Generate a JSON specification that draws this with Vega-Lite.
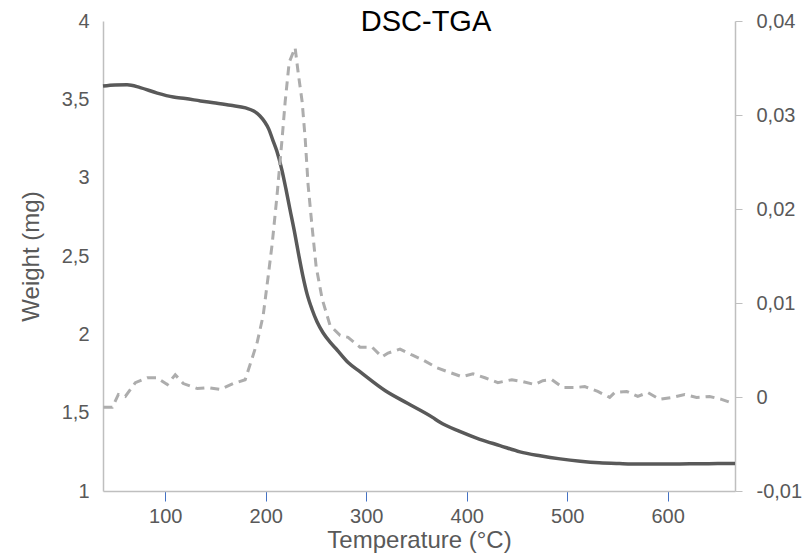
{
  "$schema": "https://vega.github.io/schema/vega-lite/v6.json",
  "width": 632,
  "height": 470,
  "autosize": "none",
  "padding": {"left": 103, "top": 21, "right": 77, "bottom": 68},
  "background": "white",
  "config": {
    "font": "Liberation Sans",
    "view": {"stroke": null}
  },
  "title": {
    "text": "DSC-TGA",
    "fontSize": 29,
    "fontWeight": "normal",
    "color": "#000000",
    "anchor": "middle",
    "frame": "group",
    "baseline": "alphabetic",
    "offset": 0,
    "dy": 49,
    "dx": 7
  },
  "datasets": {
    "tga": [
      {"T": 38, "W": 3.585}, {"T": 50, "W": 3.592}, {"T": 62, "W": 3.593}, {"T": 75, "W": 3.575},
      {"T": 92, "W": 3.54}, {"T": 108, "W": 3.515}, {"T": 120, "W": 3.505}, {"T": 135, "W": 3.49},
      {"T": 148, "W": 3.478}, {"T": 165, "W": 3.462}, {"T": 180, "W": 3.445}, {"T": 188, "W": 3.425},
      {"T": 194, "W": 3.395}, {"T": 199, "W": 3.355}, {"T": 203, "W": 3.31}, {"T": 207, "W": 3.24},
      {"T": 211, "W": 3.17}, {"T": 216, "W": 3.05}, {"T": 220, "W": 2.93}, {"T": 224, "W": 2.8},
      {"T": 229, "W": 2.64}, {"T": 233, "W": 2.5}, {"T": 237, "W": 2.37}, {"T": 241, "W": 2.26},
      {"T": 246, "W": 2.16}, {"T": 251, "W": 2.08}, {"T": 257, "W": 2.01}, {"T": 264, "W": 1.95},
      {"T": 271, "W": 1.9}, {"T": 282, "W": 1.82}, {"T": 294, "W": 1.76}, {"T": 319, "W": 1.64},
      {"T": 341, "W": 1.56}, {"T": 366, "W": 1.47}, {"T": 373, "W": 1.44}, {"T": 393, "W": 1.38},
      {"T": 413, "W": 1.33}, {"T": 433, "W": 1.29}, {"T": 453, "W": 1.25}, {"T": 473, "W": 1.225},
      {"T": 493, "W": 1.205}, {"T": 513, "W": 1.19}, {"T": 532, "W": 1.18}, {"T": 552, "W": 1.175},
      {"T": 572, "W": 1.172}, {"T": 592, "W": 1.172}, {"T": 612, "W": 1.173}, {"T": 632, "W": 1.174},
      {"T": 650, "W": 1.175}, {"T": 667, "W": 1.176}
    ],
    "dsc": [
      {"T": 38.4, "D": -0.00109}, {"T": 47.3, "D": -0.00109}, {"T": 53.3, "D": 0.00027}, {"T": 60.2, "D": 0.00006},
      {"T": 70.2, "D": 0.00153}, {"T": 82.1, "D": 0.00205}, {"T": 92.0, "D": 0.00205}, {"T": 95.0, "D": 0.0018},
      {"T": 102.0, "D": 0.00132}, {"T": 109.9, "D": 0.00237}, {"T": 117.9, "D": 0.00143}, {"T": 131.8, "D": 0.0009},
      {"T": 142.7, "D": 0.001}, {"T": 154.7, "D": 0.0008}, {"T": 167.6, "D": 0.00143}, {"T": 179.5, "D": 0.00184},
      {"T": 186.5, "D": 0.00415}, {"T": 191.5, "D": 0.00583}, {"T": 197.4, "D": 0.00866}, {"T": 202.4, "D": 0.01285},
      {"T": 206.4, "D": 0.01631}, {"T": 211.3, "D": 0.02155}, {"T": 216.3, "D": 0.02753}, {"T": 219.3, "D": 0.03141},
      {"T": 223.3, "D": 0.0356}, {"T": 229.2, "D": 0.03717}, {"T": 232.2, "D": 0.03455}, {"T": 236.2, "D": 0.03141},
      {"T": 239.2, "D": 0.02753}, {"T": 242.1, "D": 0.0226}, {"T": 246.1, "D": 0.01809}, {"T": 250.1, "D": 0.0139},
      {"T": 256.1, "D": 0.01044}, {"T": 264.0, "D": 0.00761}, {"T": 274.0, "D": 0.00656}, {"T": 281.9, "D": 0.00635},
      {"T": 293.8, "D": 0.0053}, {"T": 305.8, "D": 0.0053}, {"T": 315.7, "D": 0.00426}, {"T": 321.7, "D": 0.00468},
      {"T": 333.6, "D": 0.0051}, {"T": 345.5, "D": 0.00447}, {"T": 356.5, "D": 0.00394}, {"T": 370.4, "D": 0.0031},
      {"T": 381.3, "D": 0.00268}, {"T": 395.2, "D": 0.00216}, {"T": 406.2, "D": 0.00247}, {"T": 418.1, "D": 0.00205},
      {"T": 431.0, "D": 0.00153}, {"T": 444.9, "D": 0.00184}, {"T": 455.9, "D": 0.00164}, {"T": 467.8, "D": 0.00132},
      {"T": 475.7, "D": 0.00174}, {"T": 484.7, "D": 0.00184}, {"T": 495.6, "D": 0.001}, {"T": 507.6, "D": 0.001},
      {"T": 517.5, "D": 0.00111}, {"T": 530.4, "D": 0.00059}, {"T": 542.3, "D": -0.00004}, {"T": 547.3, "D": 0.00048},
      {"T": 559.2, "D": 0.00059}, {"T": 570.2, "D": 0.00006}, {"T": 580.1, "D": 0.00048}, {"T": 592.0, "D": -0.00025},
      {"T": 605.0, "D": -0.00004}, {"T": 616.9, "D": 0.00027}, {"T": 628.8, "D": -0.00004}, {"T": 641.7, "D": 0.00006},
      {"T": 653.6, "D": -0.00025}, {"T": 664.6, "D": -0.00067}
    ]
  },
  "encoding": {
    "x": {
      "field": "T",
      "type": "quantitative",
      "scale": {"domain": [38, 667], "nice": false, "zero": false},
      "axis": {
        "title": "Temperature (°C)",
        "values": [100, 200, 300, 400, 500, 600],
        "grid": false,
        "domainColor": "#bfbfbf",
        "domainWidth": 1.5,
        "tickColor": "#4472c4",
        "tickSize": 10,
        "tickWidth": 1,
        "labelColor": "#595959",
        "labelFontSize": 20,
        "labelPadding": 5,
        "titleColor": "#595959",
        "titleFontSize": 24,
        "titleFontWeight": "normal",
        "titlePadding": 2
      }
    }
  },
  "layer": [
    {
      "data": {"name": "tga"},
      "mark": {"type": "line", "color": "#595959", "strokeWidth": 3.5, "interpolate": "monotone"},
      "encoding": {
        "y": {
          "field": "W",
          "type": "quantitative",
          "scale": {"domain": [1, 4], "nice": false, "zero": false},
          "axis": {
            "orient": "left",
            "title": "Weight (mg)",
            "values": [1, 1.5, 2, 2.5, 3, 3.5, 4],
            "labelExpr": "replace(format(datum.value, '.1~f'), '.', ',')",
            "grid": false,
            "ticks": false,
            "domainColor": "#bfbfbf",
            "domainWidth": 1.5,
            "labelColor": "#595959",
            "labelFontSize": 20,
            "labelPadding": 14,
            "titleColor": "#595959",
            "titleFontSize": 24,
            "titleFontWeight": "normal",
            "titlePadding": 18
          }
        }
      }
    },
    {
      "data": {"name": "dsc"},
      "mark": {"type": "line", "color": "#adadad", "strokeWidth": 3, "strokeDash": [9, 6]},
      "encoding": {
        "y": {
          "field": "D",
          "type": "quantitative",
          "scale": {"domain": [-0.01, 0.04], "nice": false, "zero": false},
          "axis": {
            "orient": "right",
            "title": null,
            "values": [-0.01, 0, 0.01, 0.02, 0.03, 0.04],
            "labelExpr": "replace(replace(format(datum.value, '.2~f'), '.', ','), '−', '-')",
            "grid": false,
            "domainColor": "#bfbfbf",
            "domainWidth": 1.5,
            "tickColor": "#bfbfbf",
            "tickSize": 7,
            "labelColor": "#595959",
            "labelFontSize": 20,
            "labelPadding": 14
          }
        }
      }
    }
  ],
  "resolve": {"scale": {"y": "independent"}}
}
